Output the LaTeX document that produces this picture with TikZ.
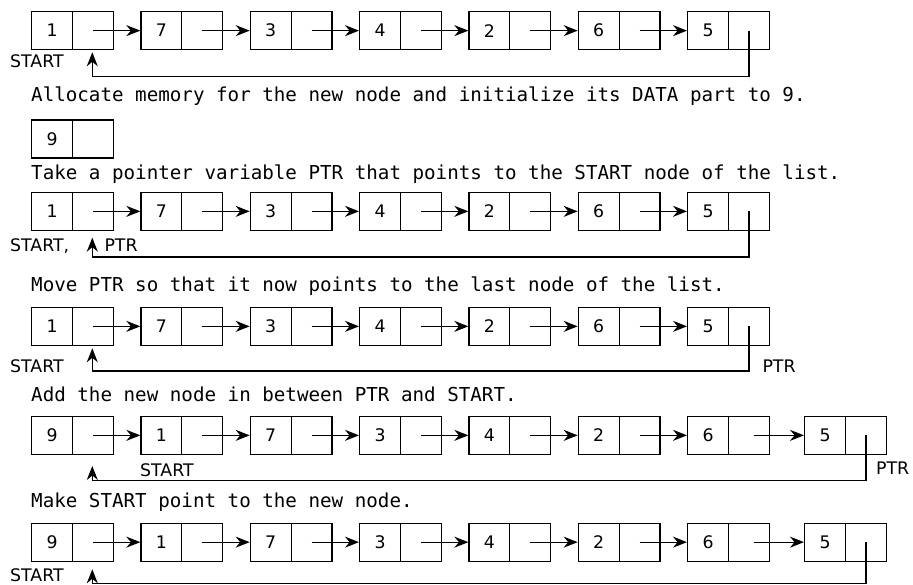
\documentclass[tikz,border=0pt]{standalone}
\usepackage{fontspec}
\setmainfont{DejaVu Sans}
\newfontfamily\monofnt{DejaVu Sans Mono}
\usetikzlibrary{arrows.meta}
\newcommand\lnode[4]{%
  \node[cell] (#1-d) at (#2,#3) {#4};
  \node[cell] (#1-p) at (#2+40.85,#3) {};}
\begin{document}
\begin{tikzpicture}[x=1pt,y=-1pt,
  cell/.style={draw, line width=1.3pt, minimum width=40.85pt, minimum height=38pt,
    inner sep=0pt, anchor=north west, font=\fontsize{17.3}{20}\selectfont},
  lnk/.style={line width=1.3pt, -{Stealth[length=14pt,width=11pt]}},
  lbl/.style={anchor=base west, inner sep=0pt, font=\fontsize{17.3}{20}\selectfont},
  txt/.style={anchor=base west, inner sep=0pt, font=\monofnt\fontsize{19.2}{22}\selectfont}]
\useasboundingbox (0,0) rectangle (913,585);

% ---------- Row 1
\foreach \v/\x [count=\i] in {1/31,7/140.33,3/249.67,4/359,2/468.33,6/577.67,5/687}
  {\lnode{r1-\i}{\x}{11}{\v}}
\foreach \i [evaluate=\i as \j using int(\i+1)] in {1,...,6}
  {\draw[lnk] (r1-\i-p.center) -- (r1-\j-d.west);}
\coordinate (r1-turn) at (92.3,76.7);
\coordinate (r1-tip) at (92.3,52.3);
\draw[lnk] (r1-7-p.center) |- (r1-turn) -- (r1-tip);
\node[lbl] (r1-start) at (10,67.7) {START};

\node[txt] (t1) at (31,101.7) {Allocate memory for the new node and initialize its DATA part to 9.};

% ---------- New node
\lnode{nn}{31}{119.3}{9}

\node[txt] (t2) at (31,179.3) {Take a pointer variable PTR that points to the START node of the list.};

% ---------- Row 3
\foreach \v/\x [count=\i] in {1/31,7/140.33,3/249.67,4/359,2/468.33,6/577.67,5/687}
  {\lnode{r3-\i}{\x}{191.7}{\v}}
\foreach \i [evaluate=\i as \j using int(\i+1)] in {1,...,6}
  {\draw[lnk] (r3-\i-p.center) -- (r3-\j-d.west);}
\coordinate (r3-turn) at (92.3,257);
\coordinate (r3-tip) at (92.3,237.7);
\draw[lnk] (r3-7-p.center) |- (r3-turn) -- (r3-tip);
\node[lbl] (r3-start) at (10,251.7) {START,};
\node[lbl] (r3-ptr) at (104.3,251.7) {PTR};

\node[txt] (t3) at (31,291.7) {Move PTR so that it now points to the last node of the list.};

% ---------- Row 4
\foreach \v/\x [count=\i] in {1/31,7/140.33,3/249.67,4/359,2/468.33,6/577.67,5/687}
  {\lnode{r4-\i}{\x}{306.7}{\v}}
\foreach \i [evaluate=\i as \j using int(\i+1)] in {1,...,6}
  {\draw[lnk] (r4-\i-p.center) -- (r4-\j-d.west);}
\coordinate (r4-turn) at (92.3,371);
\coordinate (r4-tip) at (92.3,348.3);
\draw[lnk] (r4-7-p.center) |- (r4-turn) -- (r4-tip);
\node[lbl] (r4-start) at (10,372.7) {START};
\node[lbl] (r4-ptr) at (762.3,372.7) {PTR};

\node[txt] (t4) at (31,401.7) {Add the new node in between PTR and START.};

% ---------- Row 5
\foreach \v/\x [count=\i] in {9/31,1/140.33,7/249.67,3/359,4/468.33,2/577.67,6/687,5/804}
  {\lnode{r5-\i}{\x}{415.7}{\v}}
\foreach \i [evaluate=\i as \j using int(\i+1)] in {1,...,6}
  {\draw[lnk] (r5-\i-p.center) -- (r5-\j-d.west);}
\draw[lnk] ([xshift=5pt]r5-7-p.center) -- (r5-8-d.west);
\coordinate (r5-turn) at (92.3,480.7);
\coordinate (r5-tip) at (92.3,466);
\draw[lnk] (r5-8-p.center) |- (r5-turn) -- (r5-tip);
\node[lbl] (r5-start) at (140,476) {START};
\node[lbl] (r5-ptr) at (876,474) {PTR};

\node[txt] (t5) at (31,507.7) {Make START point to the new node.};

% ---------- Row 6
\foreach \v/\x [count=\i] in {9/31,1/140.33,7/249.67,3/359,4/468.33,2/577.67,6/687,5/804}
  {\lnode{r6-\i}{\x}{522.5}{\v}}
\foreach \i [evaluate=\i as \j using int(\i+1)] in {1,...,6}
  {\draw[lnk] (r6-\i-p.center) -- (r6-\j-d.west);}
\draw[lnk] ([xshift=5pt]r6-7-p.center) -- (r6-8-d.west);
\coordinate (r6-turn) at (92.3,583.6);
\coordinate (r6-tip) at (92.3,569.3);
\draw[lnk] (r6-8-p.center) |- (r6-turn) -- (r6-tip);
\node[lbl] (r6-start) at (10,581.8) {START};
\end{tikzpicture}
\end{document}
